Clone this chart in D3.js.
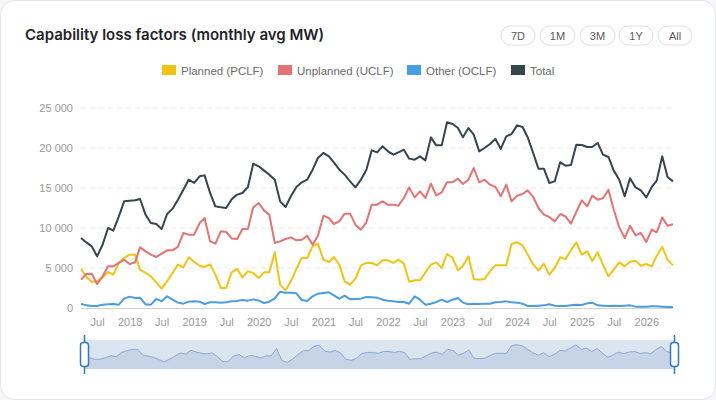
<!DOCTYPE html>
<html>
<head>
<meta charset="utf-8">
<script src="https://cdn.jsdelivr.net/npm/d3@7"></script>
<style>
  html, body { margin: 0; padding: 0; background: #f6f7f9; }
  svg { display: block; }
</style>
</head>
<body>
<svg id="chart" width="716" height="400"></svg>
<script>
// monthly averages, Apr 2017 .. Jun 2026
var months = d3.timeMonth.range(new Date(2017, 3, 1), new Date(2026, 6, 1));

var planned = [4880,3880,3250,3330,3830,4500,4170,5630,6250,6670,6670,4790,4380,3960,3210,2420,3330,4380,5420,5080,6330,5750,5290,5130,5460,4170,2500,2500,4450,
  4880,3830,4580,4380,3750,4460,4460,6960,2920,2210,3330,4880,6250,6250,7710,8040,6040,5750,6380,5420,3330,2920,3670,5290,5630,5630,5330,5960,
  5960,5630,6040,5540,3290,3460,3460,4460,5420,5710,5000,6750,6250,4710,5290,6460,3630,3540,3630,4580,5330,5330,5330,8000,8210,7830,6700,5450,
  4710,5540,4170,5000,6330,6130,7210,8210,6670,7080,5880,6960,5420,3960,4790,5710,5210,5790,5920,5290,5500,5210,6540,7630,6040,5330];

var unplanned = [3540,4250,4290,3000,3960,5210,5210,5630,6040,5500,5710,7580,7080,6670,6380,6790,7210,7210,7630,9380,9170,9170,10630,11250,8330,8040,9580,9500,8700,
  8630,9880,9880,12580,13130,12170,11670,8130,8330,8630,8830,8460,8540,9040,7920,9040,11540,11250,10500,10830,11790,11790,10420,9790,10710,12920,12920,13330,
  12920,12920,12790,13750,15080,13830,14580,13750,15540,14080,14460,15710,15710,16170,15500,16040,17500,15710,16040,15420,15130,13960,15420,13330,14040,14250,14700,13900,
  12500,11670,11380,10830,11750,11460,10540,12000,13460,12710,14040,13540,13710,14790,12290,10080,8750,10290,9080,9380,8250,9790,9460,11330,10290,10460];

var other = [540,330,250,250,420,460,500,420,1170,1420,1250,1290,460,420,1130,830,1460,1040,670,540,790,830,790,500,710,710,670,710,830,
  880,1000,920,1080,920,630,790,1210,2040,1920,1920,1830,1000,880,1460,1790,1880,1960,1580,1170,1540,1080,1130,1170,1380,1330,1290,1040,
  920,830,750,750,540,1460,1040,420,540,750,1040,750,1040,1250,670,460,540,500,540,540,710,750,830,710,670,540,250,250,
  290,330,460,290,250,250,330,420,380,580,670,330,290,250,290,250,290,330,170,170,170,210,210,170,130,130];

var total = [8750,8200,7700,6460,7900,10000,9670,11460,13330,13420,13460,13630,11670,10630,10500,9875,11750,12420,13540,14790,16040,15630,16460,16580,14380,12710,12580,12500,13600,
  14170,14380,15130,18040,17710,17170,16670,16040,13330,12630,13960,15130,15710,16040,17290,18750,19380,18960,18210,17290,16670,15830,15080,16040,17290,19710,19460,20210,
  19580,19170,19460,19790,18670,18540,18960,18460,21330,20330,20330,23210,23000,22500,21330,22500,21670,19580,20000,20500,21130,19880,21460,21750,22830,22630,21350,19400,
  17420,17420,15630,15830,18210,17790,17880,20420,20380,20130,20130,20630,19170,18880,17170,16040,13960,16210,15080,14710,13830,15130,15920,18960,16380,15830];

var seriesNames = ['Planned (PCLF)', 'Unplanned (UCLF)', 'Other (OCLF)', 'Total'];
var seriesColors = ['#f2c40f', '#e57373', '#4a9de2', '#36444d'];
var rangeButtons = ['7D', '1M', '3M', '1Y', 'All'];
var yTicks = [0, 5000, 10000, 15000, 20000, 25000];

var svg = d3.select('#chart');
var fontAxis = '"Liberation Sans", Arial, sans-serif';

// card
svg.append('rect')
    .attr('x', 0.5).attr('y', 0.5)
    .attr('width', 715).attr('height', 399)
    .attr('rx', 14)
    .style('fill', '#fff')
    .style('stroke', '#e3e6ea');

svg.append('text')
    .attr('x', 25).attr('y', 40)
    .style('font-family', 'Inter, sans-serif')
    .style('font-weight', 600)
    .style('font-size', '15px')
    .style('fill', '#1f2328')
    .text('Capability loss factors (monthly avg MW)');

// range buttons
var btnX = [501, 540, 580, 619, 658];
var btnW = [34, 35, 35, 34, 34];
var btn = svg.append('g').selectAll('g')
    .data(rangeButtons)
    .join('g')
    .attr('transform', function(d, i) { return 'translate(' + btnX[i] + ',26)'; });
btn.append('rect')
    .attr('width', function(d, i) { return btnW[i]; })
    .attr('height', 19)
    .attr('rx', 9.5)
    .style('fill', '#fff')
    .style('stroke', '#dcdfe3');
btn.append('text')
    .attr('x', function(d, i) { return btnW[i] / 2; })
    .attr('y', 13.5)
    .attr('text-anchor', 'middle')
    .style('font-family', fontAxis)
    .style('font-size', '11px')
    .style('fill', '#5a5a5a')
    .text(function(d) { return d; });

// legend
var legX = [162, 278, 407, 511];
var leg = svg.append('g').selectAll('g')
    .data(seriesNames)
    .join('g')
    .attr('transform', function(d, i) { return 'translate(' + legX[i] + ',65)'; });
leg.append('rect')
    .attr('width', 14).attr('height', 10)
    .style('fill', function(d, i) { return seriesColors[i]; });
leg.append('text')
    .attr('x', 19).attr('y', 9.5)
    .style('font-family', fontAxis)
    .style('font-size', '11.5px')
    .style('fill', '#6b6b6b')
    .text(function(d) { return d; });

// scales
var x = d3.scaleTime()
    .domain([months[0], months[months.length - 1]])
    .range([81, 673]);
var y = d3.scaleLinear().domain([0, 25000]).range([308, 108]);

svg.append('g').selectAll('line')
    .data(yTicks.slice(1))
    .join('line')
    .attr('x1', 81).attr('x2', 673)
    .attr('y1', function(d) { return y(d); })
    .attr('y2', function(d) { return y(d); })
    .style('stroke', '#e8e8e8')
    .style('stroke-dasharray', '5 4');

var yAxis = svg.append('g')
    .attr('transform', 'translate(73,0)')
    .call(d3.axisLeft(y).tickValues(yTicks).tickSize(0).tickPadding(0)
        .tickFormat(function(d) { return d3.format(',')(d).replace(/,/g, ' '); }));
yAxis.select('.domain').remove();
yAxis.selectAll('text')
    .style('font-family', fontAxis)
    .style('font-size', '11px')
    .style('fill', '#999');

var xAxis = svg.append('g')
    .attr('transform', 'translate(0,308)')
    .call(d3.axisBottom(x).ticks(d3.timeMonth.every(6)).tickSize(0).tickPadding(10)
        .tickFormat(function(d) { return d.getMonth() === 0 ? d3.timeFormat('%Y')(d) : d3.timeFormat('%b')(d); }));
xAxis.select('.domain').style('stroke', '#d0d0d0');
xAxis.selectAll('text')
    .style('font-family', fontAxis)
    .style('font-size', '11px')
    .style('fill', '#999');

// lines
var allSeries = [planned, unplanned, other, total];
var line = d3.line()
    .x(function(d, i) { return x(months[i]); })
    .y(function(d) { return y(d); });

svg.append('g').selectAll('path')
    .data(allSeries)
    .join('path')
    .attr('d', line)
    .style('fill', 'none')
    .style('stroke', function(d, i) { return seriesColors[i]; })
    .style('stroke-width', 2)
    .style('stroke-linejoin', 'round');

// navigator
var nx = d3.scaleTime()
    .domain([months[0], months[months.length - 1]])
    .range([84, 672]);
var ny = d3.scaleLinear().domain([0, d3.max(planned) * 1.2]).range([369, 340]);

var nav = svg.append('g');
nav.append('rect')
    .attr('x', 84).attr('y', 340)
    .attr('width', 590).attr('height', 29)
    .style('fill', '#dbe5f0');
nav.append('path')
    .datum(planned)
    .attr('d', d3.area()
        .x(function(d, i) { return nx(months[i]); })
        .y0(369)
        .y1(function(d) { return ny(d); }))
    .style('fill', '#c7d4e7');
nav.append('path')
    .datum(planned)
    .attr('d', d3.line()
        .x(function(d, i) { return nx(months[i]); })
        .y(function(d) { return ny(d); }))
    .style('fill', 'none')
    .style('stroke', '#8ea8d6')
    .style('stroke-width', 1);

var handles = nav.selectAll('g.handle')
    .data([84.5, 674.5])
    .join('g')
    .attr('class', 'handle')
    .attr('transform', function(d) { return 'translate(' + d + ',0)'; });
handles.append('line')
    .attr('y1', 335).attr('y2', 374)
    .style('stroke', '#2f7ac0')
    .style('stroke-width', 1.5);
handles.append('rect')
    .attr('x', -4).attr('y', 342.5)
    .attr('width', 8).attr('height', 24)
    .attr('rx', 3)
    .style('fill', '#fff')
    .style('stroke', '#2f7ac0')
    .style('stroke-width', 1.5);
</script>
</body>
</html>
